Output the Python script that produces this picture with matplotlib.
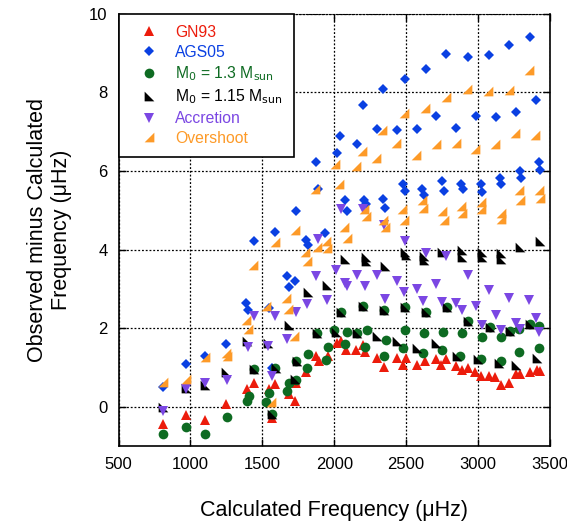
import matplotlib.pyplot as plt

plt.rcParams['font.family'] = ['Liberation Sans', 'DejaVu Sans']

# GN93
gn93_x = [810, 968, 1104, 1250, 1393, 1439, 1545, 1569, 1589, 1682, 1735, 1730, 1804, 1873, 1892,
          1954, 2016, 2046, 2081, 2151, 2197, 2213, 2296, 2347, 2439, 2481, 2497, 2575, 2632, 2709,
          2744, 2779, 2848, 2885, 2931, 2982, 3017, 3075, 3121, 3156, 3213, 3264, 3294, 3363, 3409, 3433]
gn93_y = [-0.44, -0.21, -0.34, 0.07, 0.44, 0.61, 0.45, -0.28, 0.58, 0.33, 0.60, 0.15, 0.89, 1.30, 1.15,
          1.29, 1.62, 1.66, 1.45, 1.45, 1.57, 1.40, 1.23, 1.02, 1.23, 1.06, 1.23, 1.06, 1.16, 1.21,
          1.06, 1.21, 1.04, 0.94, 0.98, 0.87, 0.79, 0.78, 0.75, 0.55, 0.60, 0.84, 0.83, 0.89, 0.93, 0.90]

# AGS05
ags_x = [810, 972, 1099, 1250, 1388, 1400, 1439, 1545, 1568, 1589, 1673, 1682, 1730, 1735, 1804,
         1815, 1873, 1885, 1938, 2016, 2042, 2077, 2088, 2155, 2197, 2208, 2220, 2300, 2342, 2342,
         2354, 2435, 2478, 2490, 2492, 2574, 2612, 2624, 2640, 2709, 2751, 2761, 2779, 2848, 2883,
         2894, 2929, 2989, 3017, 3028, 3075, 3125, 3151, 3162, 3218, 3264, 3289, 3296, 3359, 3402,
         3421, 3428]
ags_y = [0.50, 1.08, 1.28, 1.59, 2.64, 2.45, 4.21, 2.52, 0.98, 4.45, 3.32, 3.04, 3.21, 4.97, 4.25,
         4.12, 6.22, 5.53, 4.42, 6.45, 6.89, 5.26, 4.99, 6.68, 7.67, 5.25, 5.15, 7.08, 8.10, 5.29,
         5.06, 7.04, 5.68, 5.48, 8.33, 7.08, 5.53, 5.38, 8.59, 7.40, 5.74, 5.49, 8.99, 7.10, 5.68,
         5.55, 8.89, 7.40, 5.67, 5.46, 8.95, 7.37, 5.83, 5.67, 9.21, 7.50, 6.01, 5.83, 9.40, 7.82,
         6.22, 6.02]

# M0 = 1.3 Msun
m13_x = [810, 972, 1104, 1254, 1395, 1406, 1439, 1527, 1545, 1569, 1591, 1670, 1682, 1735, 1735,
         1811, 1820, 1880, 1943, 1954, 2000, 2047, 2077, 2086, 2155, 2197, 2215, 2225, 2347, 2347,
         2359, 2478, 2492, 2492, 2617, 2624, 2640, 2751, 2758, 2786, 2877, 2890, 2931, 3017, 3024,
         3081, 3156, 3162, 3225, 3287, 3287, 3363, 3421, 3426]
m13_y = [-0.69, -0.51, -0.69, -0.27, 0.14, 0.27, 0.95, 0.13, 0.36, -0.19, 0.98, 0.41, 0.61, 0.68, 1.17,
         0.98, 1.34, 1.87, 1.19, 1.53, 1.94, 2.40, 1.60, 1.91, 1.87, 2.56, 1.53, 1.96, 2.46, 1.29,
         1.70, 1.49, 1.96, 2.54, 1.36, 1.87, 2.41, 1.45, 1.90, 2.54, 1.28, 1.87, 2.19, 1.21, 1.78,
         2.04, 1.15, 1.78, 1.93, 1.38, 1.97, 2.10, 1.49, 2.06]

# M0 = 1.15 Msun
m115_x = [810, 968, 1104, 1250, 1393, 1439, 1538, 1569, 1595, 1682, 1730, 1739, 1815, 1878, 1950,
          2012, 2047, 2077, 2155, 2197, 2220, 2224, 2300, 2347, 2354, 2439, 2492, 2492, 2497, 2578,
          2624, 2624, 2640, 2709, 2751, 2786, 2855, 2890, 2890, 2931, 3000, 3024, 3024, 3081, 3144,
          3162, 3162, 3225, 3266, 3294, 3363, 3409, 3433]
m115_y = [0.00, 0.47, 0.55, 0.89, 1.66, 0.95, 1.62, -0.19, 0.98, 2.08, 0.70, 1.17, 2.93, 1.87, 3.09,
          1.91, 2.40, 3.76, 1.87, 2.56, 3.81, 3.70, 1.79, 2.46, 3.57, 1.66, 2.54, 3.95, 3.87, 1.49,
          3.83, 3.74, 2.41, 1.62, 3.93, 2.54, 1.28, 3.98, 3.81, 2.19, 1.21, 3.95, 3.80, 2.04, 1.12,
          3.91, 3.77, 1.93, 1.06, 4.07, 2.10, 1.23, 4.21]

# Accretion
acc_x = [810, 972, 1104, 1254, 1400, 1439, 1538, 1569, 1589, 1673, 1735, 1811, 1873, 1890, 1947,
         2012, 2047, 2074, 2086, 2155, 2197, 2213, 2296, 2347, 2352, 2435, 2486, 2492, 2574, 2617,
         2636, 2709, 2751, 2779, 2848, 2885, 2929, 2989, 3024, 3075, 3125, 3156, 3218, 3264, 3294,
         3357, 3402, 3426]
acc_y = [-0.10, 0.44, 0.60, 0.68, 1.53, 2.32, 1.55, 0.78, 2.30, 1.72, 2.40, 2.61, 3.32, 4.28, 2.72,
         3.49, 5.04, 3.16, 3.08, 3.36, 5.04, 3.08, 3.34, 4.62, 2.74, 3.21, 2.93, 4.23, 2.99, 2.70,
         3.90, 3.12, 2.66, 3.84, 2.64, 2.45, 3.36, 2.55, 2.08, 2.98, 2.34, 1.96, 2.77, 2.13, 1.97,
         2.72, 2.25, 1.89]

# Overshoot
ovs_x = [806, 968, 1099, 1250, 1254, 1388, 1400, 1432, 1527, 1562, 1585, 1666, 1677, 1723, 1728,
         1799, 1811, 1866, 1880, 1943, 1947, 2007, 2035, 2070, 2086, 2151, 2192, 2208, 2220, 2289,
         2335, 2342, 2354, 2428, 2474, 2486, 2486, 2567, 2608, 2617, 2631, 2705, 2747, 2761, 2779,
         2844, 2883, 2890, 2920, 2982, 3017, 3021, 3068, 3121, 3156, 3162, 3213, 3255, 3282, 3289,
         3352, 3398, 3421, 3428]
ovs_y = [0.64, 0.71, 1.26, 1.37, 1.30, 2.21, 1.97, 3.61, 2.57, 0.13, 4.19, 2.76, 2.48, 1.80, 4.49,
         3.95, 3.72, 5.53, 4.07, 4.21, 4.04, 6.17, 5.67, 4.58, 4.30, 6.12, 6.52, 5.04, 4.86, 6.32,
         7.04, 4.76, 4.58, 6.70, 5.02, 4.75, 7.48, 6.40, 5.25, 5.06, 7.60, 6.68, 4.99, 4.74, 7.89,
         6.72, 5.10, 4.92, 8.10, 6.57, 5.20, 5.04, 8.04, 6.68, 4.92, 4.79, 8.06, 6.97, 5.51, 5.25,
         8.57, 6.91, 5.51, 5.32]

tri_ll = [(-1, 1), (-1, -1), (1, -1), (-1, 1)]   # black marker
tri_lr = [(1, 1), (1, -1), (-1, -1), (1, 1)]     # orange marker

series = [
    (gn93_x, gn93_y, '^', '#ec1c0c', 6.5, 'GN93'),
    (ags_x, ags_y, 'D', '#0a40e2', 4.8, 'AGS05'),
    (m13_x, m13_y, 'o', '#0e6b22', 7, r'M$_0$ = 1.3 M$_{\rm sun}$'),
    (m115_x, m115_y, tri_ll, '#000000', 7, r'M$_0$ = 1.15 M$_{\rm sun}$'),
    (acc_x, acc_y, 'v', '#7b47e3', 6.5, 'Accretion'),
    (ovs_x, ovs_y, tri_lr, '#fd9a28', 7, 'Overshoot'),
]

fig = plt.figure(figsize=(5.67, 5.24), dpi=100)
ax = fig.add_axes([0.209, 0.149, 0.761, 0.8245])

for x, y, m, c, ms, lab in series:
    ax.plot(x, y, linestyle='none', marker=m, color=c, markersize=ms,
            markeredgewidth=0, label=lab)

ax.set_xlim(500, 3500)
ax.set_ylim(-1, 10)
ax.set_xticks(range(500, 3501, 500))
ax.set_yticks(range(0, 11, 2))
ax.tick_params(direction='in', length=5, width=1, labelsize=12,
               top=True, right=True, pad=8)
ax.grid(True, color='black', linestyle=(0, (1.5, 1.5)), linewidth=0.9)
for side in ['left', 'bottom', 'right']:
    ax.spines[side].set_linewidth(1.2)
ax.spines['top'].set_linestyle((0, (1.5, 1.5)))

ax.set_xlabel('Calculated Frequency (μHz)', fontsize=15.5, labelpad=20)
ax.set_ylabel('Observed minus Calculated\nFrequency (μHz)', fontsize=15.5, labelpad=12)

leg = ax.legend(loc='upper left', fontsize=11.3, frameon=True, fancybox=False,
                edgecolor='black', framealpha=1, borderaxespad=0, handletextpad=0.4,
                labelspacing=0.3, borderpad=0.7, handlelength=2.5)
leg.get_frame().set_linewidth(1.2)
for txt, s in zip(leg.get_texts(), series):
    txt.set_color(s[3])

fig.savefig('out.png', dpi=100)
